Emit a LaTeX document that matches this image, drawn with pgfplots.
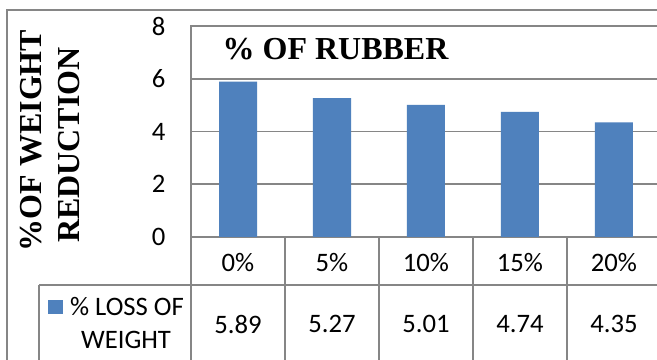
\documentclass[border=0pt]{standalone}
\usepackage{fontspec}
\setmainfont{Carlito}
\newfontfamily\tnr{Liberation Serif}
\usepackage{pgfplots}
\pgfplotsset{compat=1.18}
\definecolor{barblue}{RGB}{79,129,189}
\definecolor{gridgray}{RGB}{134,134,134}
\begin{document}
\begin{tikzpicture}[x=0.75pt,y=0.75pt]
\clip (0,0) rectangle (657,360);
\fill[white] (0,0) rectangle (657,360);
% outer chart frame
\draw[gridgray, line width=1.4pt] (7,-10) -- (7,350) -- (680,350);
\begin{axis}[
  at={(143.25pt,92.25pt)}, anchor=south west,
  scale only axis, width=352.5pt, height=158.25pt,
  xmin=-0.5, xmax=4.5, ymin=0, ymax=8,
  ytick={0,2,4,6,8},
  xtick={0,1,2,3,4},
  xticklabels={0\%,5\%,10\%,15\%,20\%},
  major tick length=0pt,
  ymajorgrids,
  major grid style={gridgray, line width=1.4pt},
  axis line style={gridgray, line width=1.4pt},
  tick label style={font=\fontsize{20}{24}\selectfont, black},
  /pgf/number format/assume math mode=true,
  yticklabel style={anchor=east, inner sep=0pt, xshift=-19pt},
  xticklabel style={anchor=center, inner sep=0pt, yshift=-19.5pt},
  ybar, bar width=28.5pt,
  clip=false,
]
\addplot[fill=barblue, draw=none] coordinates {(0,5.89) (1,5.27) (2,5.01) (3,4.74) (4,4.35)};
\end{axis}
% data table lines
\foreach \k in {0,...,5} {
  \draw[gridgray, line width=1.4pt] ({191+94*\k},123) -- ({191+94*\k},-10);
}
\draw[gridgray, line width=1.4pt] (39,75) -- (680,75);
\draw[gridgray, line width=1.4pt] (39,75) -- (39,-10);
% values row
\foreach \v [count=\i from 0] in {5.89,5.27,5.01,4.74,4.35} {
  \node[font=\fontsize{20}{24}\selectfont, inner sep=0pt] at ({238+94*\i},36) {\v};
}
% legend key
\fill[barblue] (48,46) rectangle (63,60);
\node[font=\fontsize{20}{24}\selectfont, inner sep=0pt] at (127,53) {\% LOSS OF};
\node[font=\fontsize{20}{24}\selectfont, inner sep=0pt] at (126,20) {WEIGHT};
% title
\node[font=\tnr\bfseries\fontsize{24}{28}\selectfont, anchor=base, inner sep=0pt] at (335.5,300) {\% OF RUBBER};
% y label
\node[font=\tnr\bfseries\fontsize{24}{28}\selectfont, rotate=90, anchor=base, inner sep=0pt] at (42,219.5) {\%OF WEIGHT};
\node[font=\tnr\bfseries\fontsize{24}{28}\selectfont, rotate=90, anchor=base, inner sep=0pt] at (79,215) {REDUCTION};
\end{tikzpicture}
\end{document}
